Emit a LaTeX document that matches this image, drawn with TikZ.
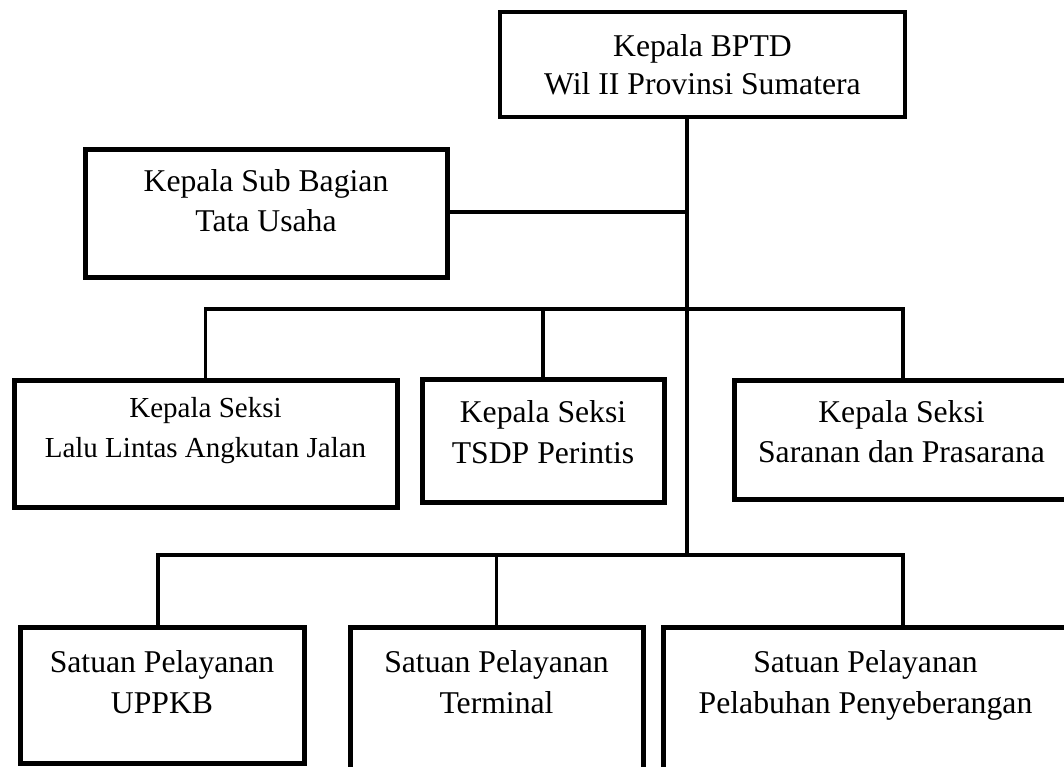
\documentclass[tikz,border=0pt]{standalone}
\usepackage{fontspec}
\setmainfont{Liberation Serif}
\begin{document}
\begin{tikzpicture}[x=1pt,y=-1pt,
  box/.style={draw=black,line width=5pt,rectangle,inner sep=0pt,outer sep=0pt},
  conn/.style={draw=black,line width=3.3pt},
  txt/.style={inner sep=0pt,anchor=base,font=\fontsize{31.7}{38}\selectfont},
  txts/.style={inner sep=0pt,anchor=base,font=\fontsize{29}{35}\selectfont}]
\useasboundingbox (0,0) rectangle (1064,767);
\clip (0,0) rectangle (1064,767);
\fill[white] (0,0) rectangle (1064,767);
% boxes
\node[box,line width=4.5pt,minimum width=405pt,minimum height=105pt] (top) at (702.5,64.5) {};
\node[box,minimum width=362pt,minimum height=127pt] (sub) at (266,213.5) {};
\node[box,minimum width=383pt,minimum height=127pt] (llaj) at (205.5,443.5) {};
\node[box,minimum width=242pt,minimum height=123pt] (tsdp) at (543,440.5) {};
\node[box,minimum width=335pt,minimum height=119pt] (sar) at (901.5,439.5) {};
\node[box,minimum width=284pt,minimum height=136pt] (uppkb) at (162,695) {};
\node[box,minimum width=293pt,minimum height=163pt] (term) at (496.5,708.5) {};
\node[box,minimum width=405pt,minimum height=163pt] (pel) at (865.5,708.5) {};
% junction coordinates
\coordinate (jA) at (687,212);
\coordinate (jB) at (687,309);
\coordinate (jC) at (687,555);
\coordinate (xR) at (903,0);
\coordinate (xU) at (158,0);
% connectors
\draw[conn] (top.south -| jA) -- (jC);
\draw[conn] (jA -| sub.east) -- (jA);
\draw[conn] (llaj.north) |- (jB) -| (sar.north -| xR);
\draw[conn] (tsdp.north) -- (tsdp.north |- jB);
\draw[conn] (uppkb.north -| xU) |- (jC) -| (pel.north -| xR);
\draw[conn] (term.north) -- (term.north |- jC);
% texts
\node[txt] (top1) at (702.5,57) {Kepala BPTD};
\node[txt] (top2) at (702.5,95) {Wil II Provinsi Sumatera};
\node[txt] (sub1) at (266,192) {Kepala Sub Bagian};
\node[txt] (sub2) at (266,232) {Tata Usaha};
\node[txts] (llaj1) at (205.5,417) {Kepala Seksi};
\node[txts] (llaj2) at (205.5,457) {Lalu Lintas Angkutan Jalan};
\node[txt] (tsdp1) at (543,422) {Kepala Seksi};
\node[txt] (tsdp2) at (543,463) {TSDP Perintis};
\node[txt] (sar1) at (901.5,422) {Kepala Seksi};
\node[txt] (sar2) at (901.5,462) {Saranan dan Prasarana};
\node[txt] (up1) at (162,672) {Satuan Pelayanan};
\node[txt] (up2) at (162,713) {UPPKB};
\node[txt] (te1) at (496.5,672) {Satuan Pelayanan};
\node[txt] (te2) at (496.5,713) {Terminal};
\node[txt] (pe1) at (865.5,672) {Satuan Pelayanan};
\node[txt] (pe2) at (865.5,713) {Pelabuhan Penyeberangan};
\end{tikzpicture}
\end{document}
